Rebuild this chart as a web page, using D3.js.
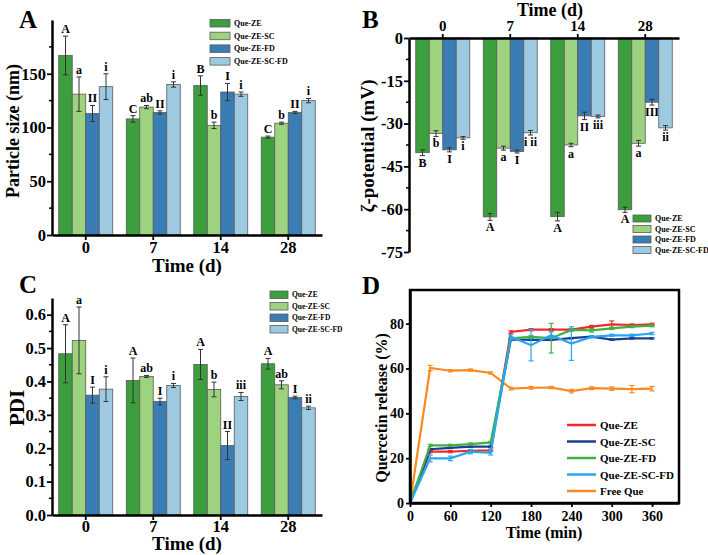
<!DOCTYPE html>
<html>
<head>
<meta charset="utf-8">
<script src="https://cdn.jsdelivr.net/npm/d3@7"></script>
<style>
  body { margin: 0; background: #fff; }
  text { font-family: 'Liberation Serif', 'Times New Roman', serif; font-weight: bold; fill: #000; }
</style>
</head>
<body>
<div id="wrapper"></div>
<script>
// series + categories
const series = ["Que-ZE", "Que-ZE-SC", "Que-ZE-FD", "Que-ZE-SC-FD"];
const days = ["0", "7", "14", "28"];
const barColors = ["#3d9e3d", "#9dd27f", "#3a7db5", "#9ecae1"];

// A: particle size (nm), one row per series, one column per day
const sizeMean = [[167, 108, 139, 91], [131, 119, 102, 104], [113, 114, 133, 114], [138, 140, 131, 125]];
const sizeErr = [[18, 3, 9, 1], [16, 1.5, 3, 1], [7.5, 1.5, 8, 1], [12, 2.5, 2, 2]];
const sizeLetters = [["A", "C", "B", "C"], ["a", "ab", "b", "b"], ["II", "II", "I", "II"], ["i", "i", "i", "i"]];

// B: zeta potential (mV)
const zetaMean = [[-40.2, -62.7, -62.6, -60.2], [-33.5, -38.6, -37.5, -36.9], [-39.2, -39.8, -27.3, -22.5], [-35, -33.2, -27.5, -31.5]];
const zetaErr = [[1, 1.2, 1.5, 0.9], [1, 0.7, 0.6, 1], [0.7, 0.5, 1.3, 1], [0.5, 0.8, 0.5, 0.8]];
const zetaLetters = [["B", "A", "A", "A"], ["b", "a", "a", "a"], ["I", "I", "II", "III"], ["i", "i ii", "iii", "ii"]];

// C: PDI
const pdiMean = [[0.483, 0.403, 0.451, 0.453], [0.523, 0.415, 0.376, 0.390], [0.359, 0.340, 0.208, 0.352], [0.377, 0.388, 0.355, 0.321]];
const pdiErr = [[0.087, 0.067, 0.045, 0.016], [0.1, 0.003, 0.022, 0.012], [0.024, 0.01, 0.042, 0.004], [0.037, 0.006, 0.012, 0.005]];
const pdiLetters = [["A", "A", "A", "A"], ["a", "ab", "b", "ab"], ["I", "I", "II", "I"], ["i", "i", "iii", "ii"]];

// D: release over time
const times = [0, 30, 60, 90, 120, 150, 180, 210, 240, 270, 300, 330, 360];
const relNames = ["Que-ZE", "Que-ZE-SC", "Que-ZE-FD", "Que-ZE-SC-FD", "Free Que"];
const relColors = ["#ee2b2b", "#1b3f8f", "#3fb045", "#27a6f2", "#f98a1f"];
const relZE = [0, 22.9, 22.9, 23.3, 23.5, 76.3, 77.3, 77.3, 77.3, 78.7, 79.7, 79.4, 79.7];
const relSC = [0, 24.0, 24.6, 25.1, 25.1, 73.0, 72.8, 72.8, 73.5, 74.2, 72.9, 73.4, 73.4];
const relFD = [0, 25.7, 25.7, 26.3, 27.0, 73.5, 74.1, 73.5, 77.2, 77.0, 77.9, 78.7, 79.1];
const relSCFD = [0, 19.9, 19.9, 22.9, 22.4, 74.1, 70.4, 74.8, 71.1, 74.1, 74.8, 74.8, 75.6];
const relFree = [0, 60.2, 59.0, 59.3, 58.0, 51.0, 51.4, 51.5, 49.9, 51.2, 51.0, 50.8, 51.0];
const errZE = [0, 0.5, 0.5, 0.5, 0.5, 0.5, 0.5, 0.5, 0.5, 0.5, 1.5, 0.5, 0.5];
const errSC = [0, 0.3, 0.3, 0.3, 0.3, 0.3, 0.3, 0.3, 0.3, 0.3, 0.3, 0.3, 0.3];
const errFD = [0, 0.5, 0.5, 0.5, 0.5, 0.5, 0.5, 6.6, 0.5, 0.8, 0.5, 0.5, 0.5];
const errSCFD = [0, 1.5, 1, 1, 1, 1, 7, 1.5, 7.5, 0.5, 0.5, 0.5, 0.5];
const errFree = [0, 1.2, 0.5, 0.5, 0.5, 0.6, 0.6, 0.5, 0.8, 0.6, 0.8, 1.6, 1.0];

const svg = d3.select("#wrapper").append("svg")
  .attr("width", 708)
  .attr("height", 555);

function styleAxis(g, fs) {
  g.select(".domain").attr("stroke", "#000").attr("stroke-width", 2.5);
  g.selectAll(".tick line").attr("stroke", "#000").attr("stroke-width", 1.8);
  g.selectAll(".tick text").style("font-size", fs + "px").attr("fill", "#000");
}

function minorTicks(g, y, vals, x0) {
  g.selectAll(null).data(vals).join("line")
    .attr("x1", x0 - 3).attr("x2", x0)
    .attr("y1", d => y(d)).attr("y2", d => y(d))
    .attr("stroke", "#000").attr("stroke-width", 1.5);
}

// draws the grouped bars, error bars and letters
function bars(g, x, y, mean, err, letters, below) {
  const inner = d3.scaleBand().domain(d3.range(series.length)).range([0, x.bandwidth()]);
  series.forEach((s, si) => {
    days.forEach((d, di) => {
      const v = mean[si][di], e = err[si][di];
      const cx = x(d) + inner(si) + inner.bandwidth() / 2;
      g.append("rect")
        .attr("x", x(d) + inner(si))
        .attr("y", Math.min(y(0), y(v)))
        .attr("width", inner.bandwidth())
        .attr("height", Math.abs(y(v) - y(0)))
        .attr("fill", barColors[si])
        .attr("stroke", "#5a5a5a")
        .attr("stroke-width", 0.8);
      const y1 = y(v + e), y2 = y(v - e);
      g.append("line").attr("x1", cx).attr("x2", cx).attr("y1", y1).attr("y2", y2)
        .attr("stroke", "#333").attr("stroke-width", 1);
      [y1, y2].forEach(yy => g.append("line")
        .attr("x1", cx - 2.5).attr("x2", cx + 2.5).attr("y1", yy).attr("y2", yy)
        .attr("stroke", "#333").attr("stroke-width", 1));
      g.append("text")
        .attr("x", cx)
        .attr("y", below ? y2 + 11 : y1 - 3)
        .attr("text-anchor", "middle")
        .style("font-size", "12px")
        .text(letters[si][di]);
    });
  });
}

function barLegend(g, x, y0, step, w, h, fs) {
  series.forEach((s, i) => {
    g.append("rect").attr("x", x).attr("y", y0 + i * step).attr("width", w).attr("height", h)
      .attr("fill", barColors[i]).attr("stroke", "#5a5a5a").attr("stroke-width", 0.8);
    g.append("text").attr("x", x + w + 4).attr("y", y0 + i * step + h / 2 + fs * 0.35)
      .style("font-size", fs + "px").text(s);
  });
}

function panelLetter(t, x, y) {
  svg.append("text").attr("x", x).attr("y", y).style("font-size", "25px").text(t);
}

// ---------- A ----------
const gA = svg.append("g");
const xA = d3.scaleBand().domain(days).range([52, 322]).paddingInner(0.2).paddingOuter(0.1);
const yA = d3.scaleLinear().domain([0, 200]).range([235, 20]);
bars(gA, xA, yA, sizeMean, sizeErr, sizeLetters, false);
gA.append("g").attr("transform", "translate(0,235)")
  .call(d3.axisBottom(xA).tickSize(5).tickSizeOuter(0).tickPadding(1))
  .call(g => styleAxis(g, 16.5));
gA.append("g").attr("transform", "translate(52,0)")
  .call(d3.axisLeft(yA).tickValues([0, 50, 100, 150]).tickSize(5).tickSizeOuter(0).tickPadding(1))
  .call(g => styleAxis(g, 16.5));
minorTicks(gA, yA, [25, 75, 125, 175], 52);
gA.append("text").attr("transform", "translate(19,131) rotate(-90)").attr("text-anchor", "middle")
  .style("font-size", "18px").text("Particle size (nm)");
gA.append("text").attr("x", 187).attr("y", 272).attr("text-anchor", "middle")
  .style("font-size", "19px").text("Time (d)");
barLegend(gA, 210, 19.5, 12.7, 20, 7.5, 8);
panelLetter("A", 19, 28);

// ---------- B ----------
const gB = svg.append("g");
const xB = d3.scaleBand().domain(days).range([409, 679]).paddingInner(0.2).paddingOuter(0.1);
const yB = d3.scaleLinear().domain([-75, 0]).range([252, 38]);
bars(gB, xB, yB, zetaMean, zetaErr, zetaLetters, true);
gB.append("g").attr("transform", "translate(0,38)")
  .call(d3.axisTop(xB).tickSize(4).tickSizeOuter(0).tickPadding(3.5))
  .call(g => styleAxis(g, 15));
gB.append("g").attr("transform", "translate(409,0)")
  .call(d3.axisLeft(yB).tickValues([0, -15, -30, -45, -60, -75]).tickFormat(d => String(d))
    .tickSize(5).tickSizeOuter(0).tickPadding(1))
  .call(g => styleAxis(g, 16.5));
minorTicks(gB, yB, [-7.5, -22.5, -37.5, -52.5, -67.5], 409);
gB.append("text").attr("transform", "translate(374,146) rotate(-90)").attr("text-anchor", "middle")
  .style("font-size", "19px").text("ζ-potential (mV)");
gB.append("text").attr("x", 550).attr("y", 15.5).attr("text-anchor", "middle")
  .style("font-size", "18px").text("Time (d)");
barLegend(gB, 633, 215, 10.5, 18, 7, 8);
panelLetter("B", 362, 28);

// ---------- C ----------
const gC = svg.append("g");
const xC = d3.scaleBand().domain(days).range([52, 322]).paddingInner(0.2).paddingOuter(0.1);
const yC = d3.scaleLinear().domain([0, 0.65]).range([515, 298]);
bars(gC, xC, yC, pdiMean, pdiErr, pdiLetters, false);
gC.append("g").attr("transform", "translate(0,515)")
  .call(d3.axisBottom(xC).tickSize(5).tickSizeOuter(0).tickPadding(0))
  .call(g => styleAxis(g, 16.5));
gC.append("g").attr("transform", "translate(52,0)")
  .call(d3.axisLeft(yC).tickValues([0, 0.1, 0.2, 0.3, 0.4, 0.5, 0.6]).tickFormat(d3.format(".1f"))
    .tickSize(5).tickSizeOuter(0).tickPadding(1))
  .call(g => styleAxis(g, 16.5));
minorTicks(gC, yC, [0.05, 0.15, 0.25, 0.35, 0.45, 0.55], 52);
gC.append("text").attr("transform", "translate(24,408) rotate(-90)").attr("text-anchor", "middle")
  .style("font-size", "21px").text("PDI");
gC.append("text").attr("x", 187).attr("y", 550).attr("text-anchor", "middle")
  .style("font-size", "19px").text("Time (d)");
barLegend(gC, 270, 291, 11.5, 18, 7.5, 7.5);
panelLetter("C", 19, 293);

// ---------- D ----------
const gD = svg.append("g");
const xD = d3.scaleLinear().domain([0, 400]).range([410, 679]);
const yD = d3.scaleLinear().domain([0, 95]).range([503, 290]);
const relData = [relZE, relSC, relFD, relSCFD, relFree];
const relErr = [errZE, errSC, errFD, errSCFD, errFree];
const drawOrder = [4, 0, 1, 2, 3];
const line = d3.line().x((d, i) => xD(times[i])).y(d => yD(d));

drawOrder.forEach(k => {
  gD.append("path").datum(relData[k])
    .attr("d", line)
    .attr("fill", "none")
    .attr("stroke", relColors[k])
    .attr("stroke-width", 2.2);
  relData[k].forEach((v, i) => {
    const e = relErr[k][i];
    if (!e) return;
    const cx = xD(times[i]);
    gD.append("line").attr("x1", cx).attr("x2", cx).attr("y1", yD(v + e)).attr("y2", yD(v - e))
      .attr("stroke", relColors[k]).attr("stroke-width", 1.2);
    [v + e, v - e].forEach(t => gD.append("line")
      .attr("x1", cx - 2.5).attr("x2", cx + 2.5).attr("y1", yD(t)).attr("y2", yD(t))
      .attr("stroke", relColors[k]).attr("stroke-width", 1.2));
  });
});

gD.append("g").attr("transform", "translate(0,503)")
  .call(d3.axisBottom(xD).tickValues([0, 60, 120, 180, 240, 300, 360]).tickSize(4).tickSizeOuter(0).tickPadding(4))
  .call(g => styleAxis(g, 14));
gD.append("g").attr("transform", "translate(410,0)")
  .call(d3.axisLeft(yD).tickValues([0, 20, 40, 60, 80]).tickSize(4).tickSizeOuter(0).tickPadding(2))
  .call(g => styleAxis(g, 14));
gD.append("rect").attr("x", 410).attr("y", 290).attr("width", 269).attr("height", 213)
  .attr("fill", "none").attr("stroke", "#000").attr("stroke-width", 2.5);

relNames.forEach((n, i) => {
  const yy = 425 + i * 16.5;
  gD.append("line").attr("x1", 567).attr("x2", 596).attr("y1", yy).attr("y2", yy)
    .attr("stroke", relColors[i]).attr("stroke-width", 2.5);
  gD.append("text").attr("x", 600).attr("y", yy + 4).style("font-size", "11px").text(n);
});
gD.append("text").attr("transform", "translate(387,408) rotate(-90)").attr("text-anchor", "middle")
  .style("font-size", "16px").text("Quercetin release (%)");
gD.append("text").attr("x", 544).attr("y", 538).attr("text-anchor", "middle")
  .style("font-size", "16px").text("Time (min)");
panelLetter("D", 362, 294);
</script>
</body>
</html>
